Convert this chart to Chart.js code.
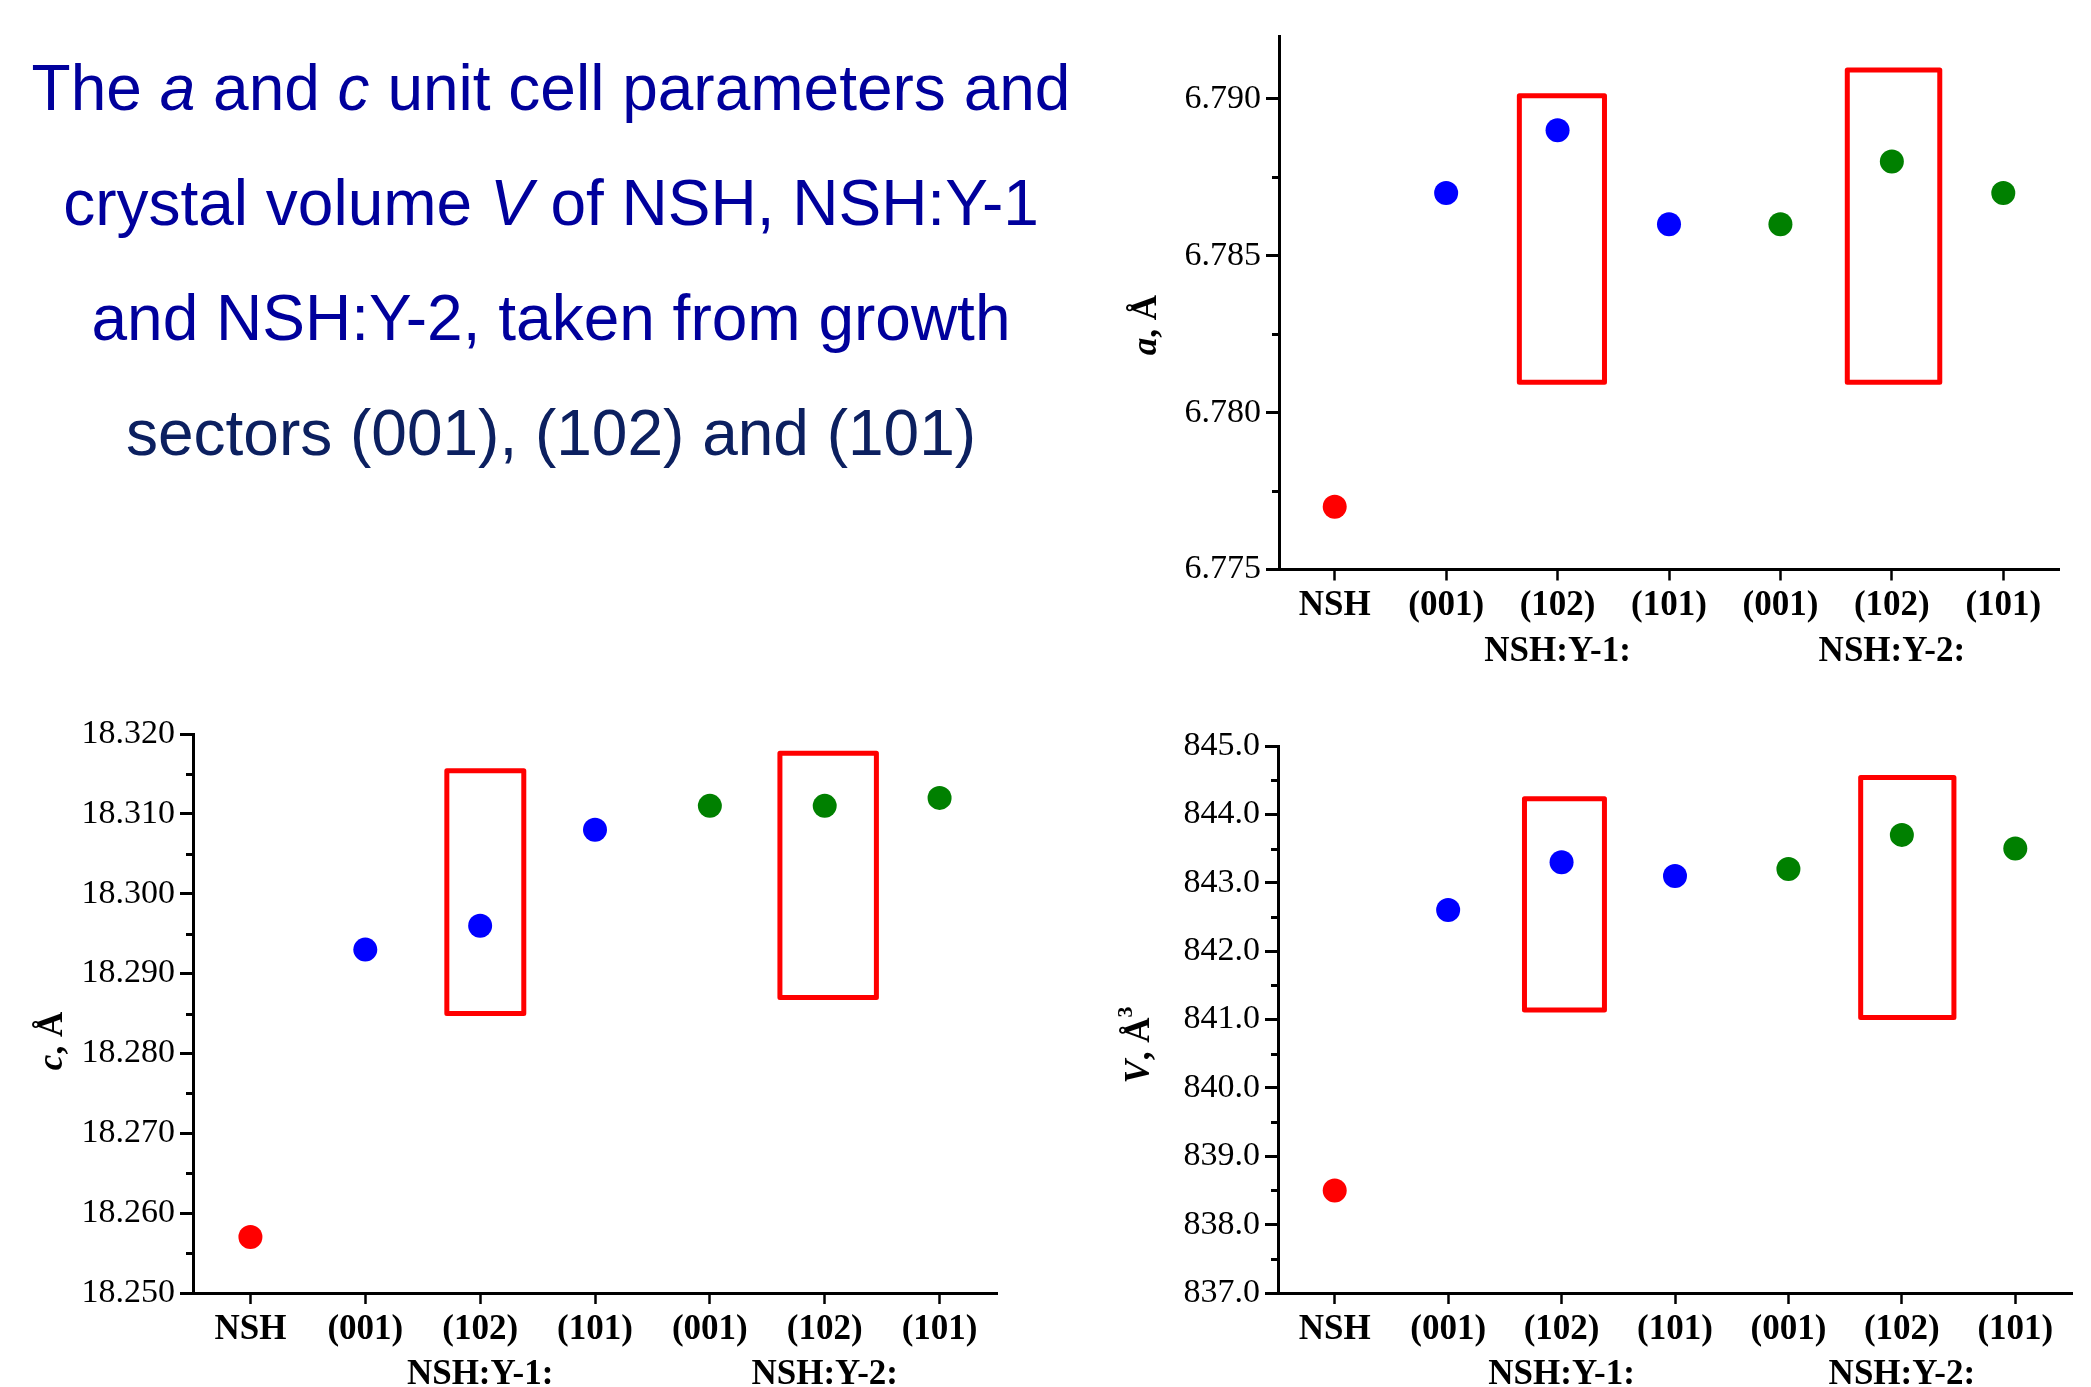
<!DOCTYPE html>
<html>
<head>
<meta charset="utf-8">
<script src="https://cdn.jsdelivr.net/npm/chart.js@4.4.0/dist/chart.umd.min.js"></script>
<style>
body { margin: 0; background: #fff; width: 2091px; height: 1387px; overflow: hidden; position: relative; }
#title {
    position: absolute; left: 0; top: 31px; width: 1102px; text-align: center;
    font-family: 'Liberation Sans', Arial, sans-serif; font-size: 64px; line-height: 115px;
    color: #00009c;
}
#title .last { color: #0c2060; }
canvas { position: absolute; }
</style>
</head>
<body>
<div id="title">The <i>a</i> and <i>c</i> unit cell parameters and<br>crystal volume <i>V</i> of NSH, NSH:Y-1<br>and NSH:Y-2, taken from growth<br><span class="last">sectors (001), (102) and (101)</span></div>
<canvas id="chartA" width="1011" height="700" style="left:1080px;top:0px"></canvas>
<canvas id="chartC" width="1040" height="697" style="left:0px;top:690px"></canvas>
<canvas id="chartV" width="1011" height="697" style="left:1080px;top:690px"></canvas>
<script>
// Categories (second line of a label = sample group)
const categories = ['NSH', '(001)', ['(102)', 'NSH:Y-1:'], '(101)', '(001)', ['(102)', 'NSH:Y-2:'], '(101)'];

// Values
const aValues = [6.777, 6.787, 6.789, 6.786, 6.786, 6.788, 6.787];
const cValues = [18.257, 18.293, 18.296, 18.308, 18.311, 18.311, 18.312];
const vValues = [838.5, 842.6, 843.3, 843.1, 843.2, 843.7, 843.5];

// Tick values
const aTicks = [6.775, 6.780, 6.785, 6.790];
const aMinorTicks = [6.7775, 6.7825, 6.7875];
const cTicks = [18.250, 18.260, 18.270, 18.280, 18.290, 18.300, 18.310, 18.320];
const cMinorTicks = [18.255, 18.265, 18.275, 18.285, 18.295, 18.305, 18.315];
const vTicks = [837, 838, 839, 840, 841, 842, 843, 844, 845];
const vMinorTicks = [837.5, 838.5, 839.5, 840.5, 841.5, 842.5, 843.5, 844.5];

// Highlight frames: [from category, to category, low value, high value]
const aBoxes = [[1.657, 2.421, 6.78097, 6.7901], [4.60, 5.43, 6.78097, 6.79092]];
const cBoxes = [[1.71, 2.38, 18.2850, 18.3154], [4.61, 5.45, 18.2870, 18.3176]];
const vBoxes = [[1.673, 2.378, 841.14, 844.23], [4.637, 5.459, 841.03, 844.54]];

const pointColors = ['#ff0000', '#0000ff', '#0000ff', '#0000ff', '#008000', '#008000', '#008000'];
const SERIF = "'Liberation Serif', 'Times New Roman', serif";

// Draws minor ticks, red frames and the mixed-style y axis title
const extrasPlugin = {
    id: 'extras',
    afterDraw(chart, args, opts) {
        const ctx = chart.ctx;
        const x = chart.scales.x;
        const y = chart.scales.y;
        const left = chart.chartArea.left;
        ctx.save();

        // minor ticks
        ctx.strokeStyle = '#000';
        ctx.lineWidth = 3;
        opts.minor.forEach(v => {
            const py = Math.round(y.getPixelForValue(v)) + 0.5;
            ctx.beginPath();
            ctx.moveTo(left - 7, py);
            ctx.lineTo(left, py);
            ctx.stroke();
        });

        // red frames
        ctx.strokeStyle = '#ff0000';
        ctx.lineWidth = 5;
        ctx.lineJoin = 'round';
        opts.boxes.forEach(b => {
            const x1 = x.getPixelForValue(b[0]);
            const x2 = x.getPixelForValue(b[1]);
            const y1 = y.getPixelForValue(b[3]);
            const y2 = y.getPixelForValue(b[2]);
            ctx.strokeRect(x1, y1, x2 - x1, y2 - y1);
        });

        // rotated axis title
        ctx.fillStyle = '#000';
        ctx.translate(opts.titleX, opts.titleY);
        ctx.rotate(-Math.PI / 2);
        ctx.textBaseline = 'middle';
        ctx.textAlign = 'left';
        let total = 0;
        opts.title.forEach(p => {
            ctx.font = p.font;
            total += ctx.measureText(p.text).width;
        });
        let cx = -total / 2;
        opts.title.forEach(p => {
            ctx.font = p.font;
            ctx.fillText(p.text, cx, p.dy || 0);
            cx += ctx.measureText(p.text).width;
        });
        ctx.restore();
    }
};

function makeChart(id, values, yMin, yMax, majors, minors, decimals, boxes, title, geo) {
    const ctx = document.getElementById(id).getContext('2d');
    return new Chart(ctx, {
        type: 'line',
        data: {
            labels: categories,
            datasets: [{
                data: values,
                showLine: false,
                pointRadius: 12,
                pointHoverRadius: 12,
                pointBorderWidth: 0,
                pointBackgroundColor: pointColors,
                pointBorderColor: pointColors
            }]
        },
        options: {
            responsive: false,
            animation: false,
            layout: { padding: { top: geo.padTop, right: geo.padRight, left: 0, bottom: 0 } },
            plugins: {
                legend: { display: false },
                tooltip: { enabled: false },
                extras: {
                    minor: minors,
                    boxes: boxes,
                    title: title,
                    titleX: geo.titleX,
                    titleY: geo.titleY
                }
            },
            scales: {
                x: {
                    type: 'category',
                    offset: true,
                    border: { display: true, color: '#000', width: 3 },
                    grid: { display: true, drawOnChartArea: false, tickLength: 11, tickWidth: 2.5, tickColor: '#000', offset: false },
                    ticks: {
                        autoSkip: false,
                        maxRotation: 0,
                        padding: 3,
                        color: '#000',
                        font: { family: SERIF, size: 35, weight: 'bold', lineHeight: 1.3 }
                    },
                    afterFit(scale) { scale.height = geo.xHeight; }
                },
                y: {
                    min: yMin,
                    max: yMax,
                    border: { display: true, color: '#000', width: 3 },
                    grid: { display: true, drawOnChartArea: false, tickLength: 13, tickWidth: 3, tickColor: '#000' },
                    ticks: {
                        padding: 5,
                        color: '#000',
                        font: { family: SERIF, size: 34 },
                        callback: v => Number(v).toFixed(decimals)
                    },
                    afterBuildTicks(scale) { scale.ticks = majors.map(v => ({ value: v })); },
                    afterFit(scale) { scale.width = geo.yWidth; }
                }
            }
        },
        plugins: [extrasPlugin]
    });
}

const boldItalic = 'italic bold 35px ' + SERIF;
const bold = 'bold 35px ' + SERIF;

makeChart('chartA', aValues, 6.775, 6.792, aTicks, aMinorTicks, 3, aBoxes,
    [{ text: 'a', font: boldItalic }, { text: ', Å', font: bold }],
    { padTop: 36, padRight: 32, yWidth: 199, xHeight: 130.5, titleX: 67, titleY: 325 });

makeChart('chartC', cValues, 18.250, 18.320, cTicks, cMinorTicks, 3, cBoxes,
    [{ text: 'c', font: boldItalic }, { text: ', Å', font: bold }],
    { padTop: 44, padRight: 43, yWidth: 193, xHeight: 94, titleX: 53, titleY: 351 });

makeChart('chartV', vValues, 837, 845, vTicks, vMinorTicks, 1, vBoxes,
    [{ text: 'V', font: boldItalic }, { text: ', Å', font: bold }, { text: '3', font: 'bold 22px ' + SERIF, dy: -14 }],
    { padTop: 56, padRight: 19, yWidth: 198, xHeight: 94, titleX: 60, titleY: 355 });
</script>
</body>
</html>
